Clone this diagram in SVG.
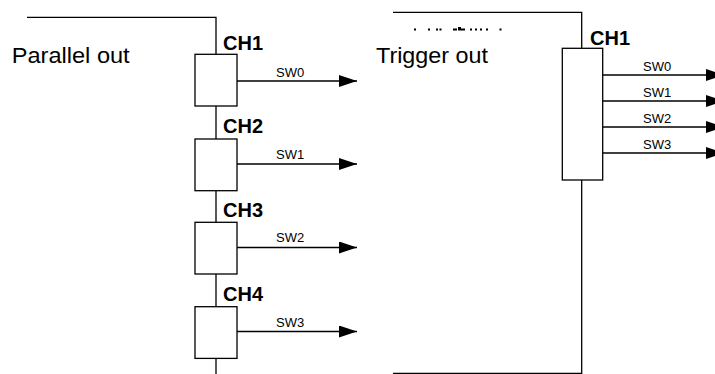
<svg xmlns="http://www.w3.org/2000/svg" width="715" height="374" viewBox="0 0 715 374">
<defs>
<style>
.ln{stroke:#000;stroke-width:1.3;fill:none}
.bx{stroke:#000;stroke-width:1.3;fill:#fff}
.big{font-family:"Liberation Sans",Arial,sans-serif;font-size:22px;fill:#000}
.ch{font-family:"Liberation Sans",Arial,sans-serif;font-size:20px;font-weight:bold;fill:#000}
.sw{font-family:"Liberation Sans",Arial,sans-serif;font-size:13px;fill:#000}
</style>
<marker id="ah" markerWidth="18" markerHeight="12" refX="18" refY="6" orient="auto" markerUnits="userSpaceOnUse">
<path d="M0,0 L18,6 L0,12 Z" fill="#000"/>
</marker>
</defs>
<rect width="715" height="374" fill="#fff"/>
<g id="connectors">
<path class="ln" d="M27,17.3 H216 V374"/>
<path class="ln" d="M237,81 H357" marker-end="url(#ah)"/>
<path class="ln" d="M237,164 H357" marker-end="url(#ah)"/>
<path class="ln" d="M237,247.5 H357" marker-end="url(#ah)"/>
<path class="ln" d="M237,331.5 H357" marker-end="url(#ah)"/>
<path class="ln" d="M393,12.3 H581.7 V373.3 H393"/>
<path class="ln" d="M602.7,75 H724" marker-end="url(#ah)"/>
<path class="ln" d="M602.7,101 H724" marker-end="url(#ah)"/>
<path class="ln" d="M602.7,127 H724" marker-end="url(#ah)"/>
<path class="ln" d="M602.7,153 H724" marker-end="url(#ah)"/>
</g>
<g id="labels">
<text class="big" x="11.7" y="63.3" textLength="118" lengthAdjust="spacingAndGlyphs">Parallel out</text>
<text class="big" x="376" y="63.3" textLength="112" lengthAdjust="spacingAndGlyphs">Trigger out</text>
<g fill="#000">
<rect x="414" y="28.5" width="2" height="2"/>
<rect x="428" y="28.5" width="2" height="2"/>
<rect x="436" y="28.5" width="2" height="2"/>
<rect x="439.5" y="28.5" width="2" height="2"/>
<rect x="453" y="28.5" width="4" height="2"/>
<rect x="458" y="27" width="3" height="3.5"/>
<rect x="461" y="28.5" width="4" height="2"/>
<rect x="470" y="28.5" width="2" height="2"/>
<rect x="475" y="28.5" width="2" height="2"/>
<rect x="480" y="28.5" width="2" height="2"/>
<rect x="486" y="28.5" width="2" height="2"/>
<rect x="499.5" y="28.5" width="2" height="2"/>
</g>
</g>
<g id="ch1">
<rect class="bx" x="195" y="54.3" width="42" height="51.7"/>
<text class="ch" x="223" y="50">CH1</text>
<text class="sw" x="276" y="76.5">SW0</text>
</g>
<g id="ch2">
<rect class="bx" x="195" y="139" width="42" height="51.7"/>
<text class="ch" x="223" y="133.3">CH2</text>
<text class="sw" x="276" y="159">SW1</text>
</g>
<g id="ch3">
<rect class="bx" x="195" y="222.3" width="42" height="51.7"/>
<text class="ch" x="223" y="216.7">CH3</text>
<text class="sw" x="276" y="242">SW2</text>
</g>
<g id="ch4">
<rect class="bx" x="195" y="306.7" width="42" height="51.7"/>
<text class="ch" x="223" y="301">CH4</text>
<text class="sw" x="276" y="326.5">SW3</text>
</g>
<g id="trigger-ch1">
<rect class="bx" x="562.3" y="48.3" width="40.4" height="131.7"/>
<text class="ch" x="590" y="45">CH1</text>
<text class="sw" x="643" y="71">SW0</text>
<text class="sw" x="643" y="97">SW1</text>
<text class="sw" x="643" y="123">SW2</text>
<text class="sw" x="643" y="149">SW3</text>
</g>
</svg>
